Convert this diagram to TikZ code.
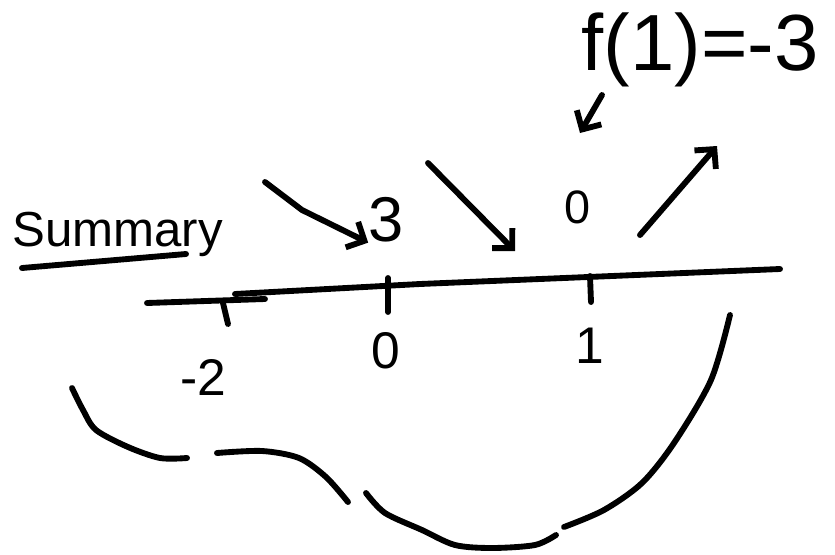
\documentclass[tikz,border=0pt]{standalone}
\usepackage{fontspec}
\setmainfont{Liberation Sans}
\usetikzlibrary{arrows.meta}

\begin{document}
\begin{tikzpicture}[
  x=0.03cm, y=-0.03cm,
  ink/.style={line width=5pt, line cap=round, line join=round},
  penarrow/.style={ink, -{Straight Barb[length=0.42cm, width=0.85cm]}},
  handtext/.style={inner sep=0pt, font=\fontsize{#1}{#1}\selectfont},
  handtext/.default=44pt
]
  \useasboundingbox (0,0) rectangle (835,554);

  % title
  \node[handtext=42pt, anchor=base west] (summary) at (12,246) {Summary};
  \draw[ink] (22,268) -- (186,254);

  % number line (two overlapping strokes)
  \draw[ink] (147,303) -- (265,299);
  \draw[ink] (235,294) -- (420,284) -- (780,269);

  % ticks
  \draw[ink] (223,303) -- (228,324);
  \draw[ink] (388,278) -- (388,312);
  \draw[ink] (590,276) -- (591,302);

  % tick labels
  \node[handtext] (mtwo) at (203,377) {-2};
  \node[handtext] (zero) at (386,351) {0};
  \node[handtext] (one)  at (590,346) {1};

  % values above the line
  \node[handtext=54pt] (three) at (386,220) {3};
  \node[handtext=40pt] (zerotop) at (578,207) {0};
  \node[handtext=68pt] (fvalue) at (700,50) {f(1)=-3};

  % arrows
  \coordinate (inA)  at (265,182);
  \coordinate (inB)  at (428,163);
  \coordinate (tipB) at (515,251);
  \coordinate (outC) at (640,235);
  \coordinate (tipC) at (717,146);
  \coordinate (outD) at (602,95);
  \coordinate (tipD) at (580,133);
  \draw[penarrow] (inA) -- (302,210) -- (three.south west);
  \draw[penarrow] (inB) -- (tipB);
  \draw[penarrow] (outC) -- (tipC);
  \draw[penarrow] (outD) -- (tipD);

  % hand-drawn curves below
  \draw[ink] plot[smooth] coordinates {(72,388) (83,410) (96,430) (128,447) (160,458) (187,458)};
  \draw[ink] plot[smooth] coordinates {(217,453) (262,451) (299,458) (326,477) (348,502)};
  \draw[ink] plot[smooth] coordinates {(366,493) (385,513) (422,530) (455,545) (492,548) (535,545) (556,535)};
  \draw[ink] plot[smooth] coordinates {(564,527) (604,510) (642,483) (674,443) (711,380) (730,315)};
\end{tikzpicture}
\end{document}
